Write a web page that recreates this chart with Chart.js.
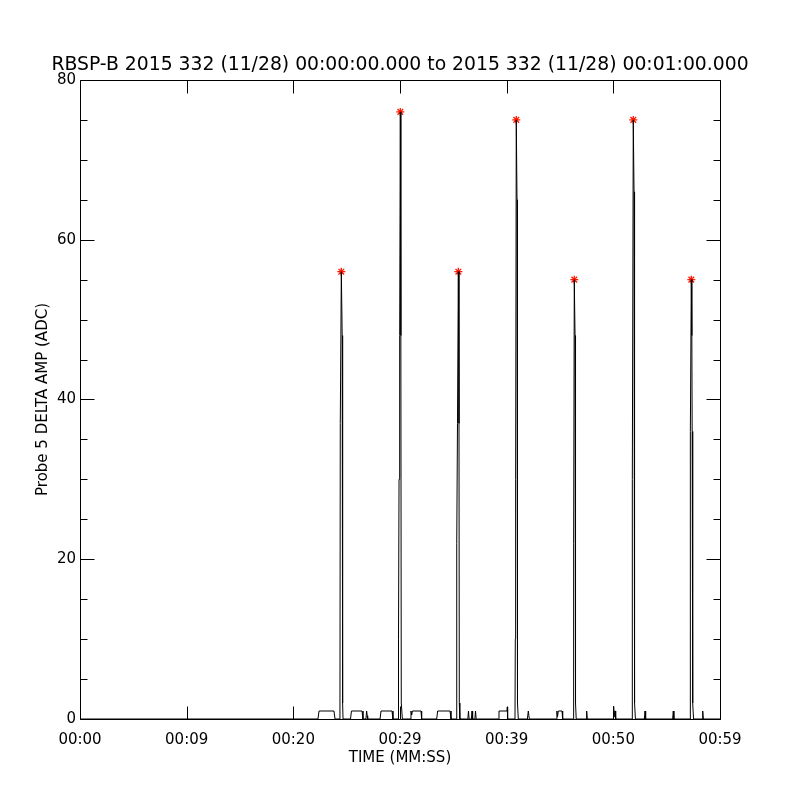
<!DOCTYPE html>
<html><head><meta charset="utf-8">
<script src="https://cdn.jsdelivr.net/npm/chart.js@4.4.1/dist/chart.umd.min.js"></script>
<style>html,body{margin:0;padding:0;background:#fff;} canvas{display:block;}</style>
</head><body>
<canvas id="c" width="800" height="800"></canvas>
<script>
const titleText = 'RBSP-B 2015 332 (11/28) 00:00:00.000 to 2015 332 (11/28) 00:01:00.000';
const xAxisTitle = 'TIME (MM:SS)';
const yAxisTitle = 'Probe 5 DELTA AMP (ADC)';
const xTickLabels = ['00:00', '00:09', '00:20', '00:29', '00:39', '00:50', '00:59'];

// Probe 5 delta amplitude samples (seconds after 00:00:00, ADC counts)
const sampleTimes = [
  0,
  22.31, 22.41, 23.81, 23.91,
  24.37, 24.40, 24.50, 24.58, 24.62, 24.66,
  25.36, 25.45, 26.44, 26.53,
  26.81, 26.87, 26.93, 26.97,
  28.13, 28.22, 29.25, 29.34,
  29.84, 29.86, 29.91, 29.97, 30.03, 30.08, 30.12, 30.17, 30.22,
  30.94, 31.03, 31.10, 31.16, 31.97, 32.03,
  33.44, 33.53, 34.69, 34.78,
  35.27, 35.30, 35.34, 35.39, 35.47, 35.53, 35.56, 35.61,
  36.36, 36.42, 36.48,
  36.69, 36.75, 36.81,
  37.02, 37.08, 37.14,
  39.19, 39.28, 40.03, 40.06, 40.09,
  40.78, 40.81, 40.84, 40.90, 40.97, 41.00, 41.03, 41.09,
  41.94, 42.03, 42.12,
  44.65, 44.71, 44.77, 44.84, 45.19, 45.25,
  46.25, 46.28, 46.34, 46.41, 46.44, 46.47, 46.52,
  47.44, 47.50, 47.56,
  49.99, 50.03, 50.09, 50.13, 50.19, 50.22,
  51.75, 51.78, 51.87, 51.94, 51.97, 52.01, 52.07,
  52.91, 52.97, 53.03,
  55.56, 55.62, 55.68,
  57.19, 57.22, 57.31, 57.36, 57.39, 57.44, 57.52,
  58.32, 58.38, 58.44,
  60
];
const sampleValues = [
  0,
  0, 1, 1, 0,
  0, 37, 56, 48, 2, 0,
  0, 1, 1, 0,
  0, 1, 0.4, 0,
  0, 1, 1, 0,
  0, 10, 30, 48, 76, 48, 2, 2, 0,
  0, 1, 0.5, 1, 1, 0,
  0, 1, 1, 0,
  0, 9, 22, 37, 56, 37, 2, 0,
  0, 1, 0,
  0, 1, 0,
  0, 1, 0,
  0, 1, 1, 1.5, 0,
  0, 10, 30, 75, 65, 30, 2, 0,
  0, 1, 0,
  0, 1, 0.3, 1, 1, 0,
  0, 22, 55, 48, 22, 2, 0,
  0, 1, 0,
  0, 1.6, 0.3, 1, 1, 0,
  0, 30, 75, 66, 30, 2, 0,
  0, 1, 0,
  0, 1, 0,
  0, 36, 55, 48, 36, 2, 0,
  0, 1, 0,
  0
];
const peakTimes = [24.50, 30.03, 35.47, 40.90, 46.34, 51.87, 57.31];
const peakValues = [56, 76, 56, 75, 55, 75, 55];

const xMin = 0, xMax = 60, xStep = 10;
const yMin = 0, yMax = 80, yStep = 20, yMinorStep = 5;

const frameTicks = {
  id: 'frameTicks',
  afterDatasetsDraw(chart) {
    const {ctx, chartArea: a, scales: {x, y}} = chart;
    ctx.save();
    ctx.strokeStyle = '#000';
    ctx.lineWidth = 1;
    const L = Math.round(a.left) + 0.5, R = Math.round(a.right) + 0.5;
    const T = Math.round(a.top) + 0.5, B = Math.round(a.bottom) + 0.5;
    ctx.beginPath();
    ctx.rect(L, T, R - L, B - T);
    x.ticks.forEach(t => {
      const px = Math.round(x.getPixelForValue(t.value)) + 0.5;
      ctx.moveTo(px, B); ctx.lineTo(px, B - 13);
      ctx.moveTo(px, T); ctx.lineTo(px, T + 13);
    });
    for (let v = yMin; v <= yMax; v += yMinorStep) {
      const len = (v % yStep === 0) ? 14 : 7;
      const py = Math.round(y.getPixelForValue(v)) + 0.5;
      ctx.moveTo(L, py); ctx.lineTo(L + len, py);
      ctx.moveTo(R, py); ctx.lineTo(R - len, py);
    }
    ctx.stroke();
    ctx.restore();
  }
};

const FONT = 'DejaVu Sans';
new Chart(document.getElementById('c'), {
  type: 'line',
  data: {
    datasets: [
      {
        data: sampleTimes.map((t, i) => ({x: t, y: sampleValues[i]})),
        borderColor: '#000',
        borderWidth: 1,
        pointRadius: 0,
        tension: 0,
        fill: false
      },
      {
        data: peakTimes.map((t, i) => ({x: t, y: peakValues[i]})),
        showLine: false,
        pointStyle: 'star',
        pointRadius: 4,
        borderColor: 'rgb(255,25,0)',
        backgroundColor: 'rgb(255,25,0)',
        pointBorderWidth: 1.3
      }
    ]
  },
  options: {
    responsive: false,
    animation: false,
    devicePixelRatio: 1,
    layout: {padding: 0},
    plugins: {
      legend: {display: false},
      tooltip: {enabled: false},
      title: {
        display: true,
        text: titleText,
        color: '#000',
        font: {family: FONT, size: 18.8, weight: 'normal'},
        padding: {top: 54, bottom: 3.4}
      }
    },
    scales: {
      x: {
        type: 'linear',
        min: xMin, max: xMax,
        grid: {display: false, drawTicks: false},
        border: {display: false},
        ticks: {
          stepSize: xStep,
          autoSkip: false,
          maxRotation: 0,
          padding: 12,
          color: '#000',
          font: {family: FONT, size: 15},
          callback: (v, i) => xTickLabels[i]
        },
        title: {
          display: true, text: xAxisTitle, color: '#000',
          font: {family: FONT, size: 15},
          padding: {top: 0, bottom: 33}
        },
        afterFit(s) { s.height = 81; }
      },
      y: {
        type: 'linear',
        min: yMin, max: yMax,
        grid: {display: false, drawTicks: false},
        border: {display: false},
        ticks: {
          stepSize: yStep,
          padding: 4,
          color: '#000',
          font: {family: FONT, size: 15}
        },
        title: {
          display: true, text: yAxisTitle, color: '#000',
          font: {family: FONT, size: 15},
          padding: {top: 34, bottom: 0}
        },
        afterFit(s) { s.width = 80; }
      },
      yRight: {
        type: 'linear',
        position: 'right',
        min: yMin, max: yMax,
        grid: {display: false, drawTicks: false},
        border: {display: false},
        ticks: {display: false},
        afterFit(s) { s.width = 80; }
      }
    }
  },
  plugins: [frameTicks]
});
</script>
</body></html>
